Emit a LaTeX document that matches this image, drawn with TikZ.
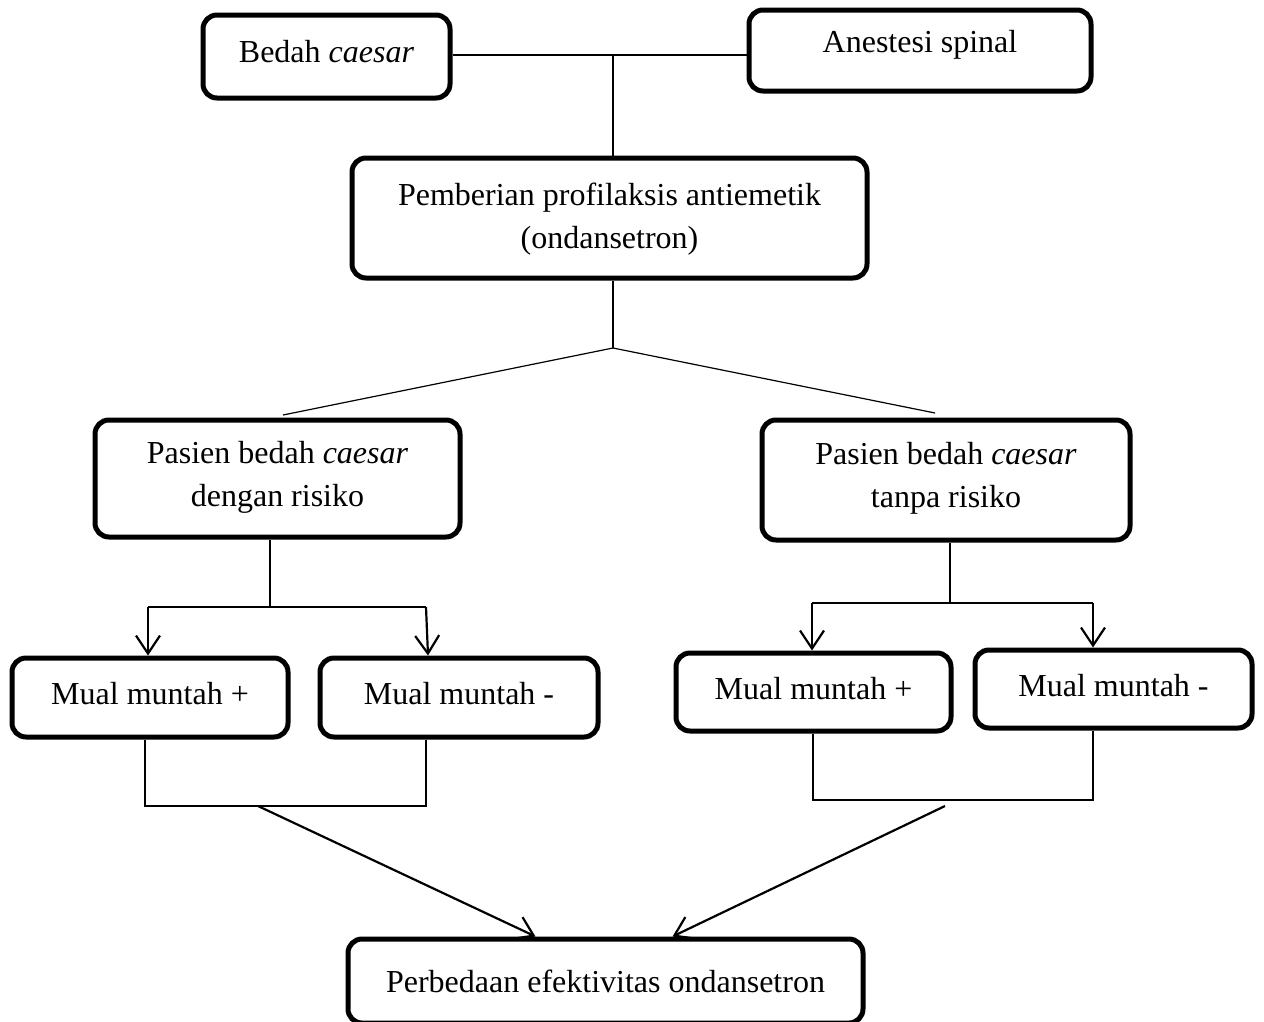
\documentclass[tikz,border=0pt]{standalone}
\usepackage{fontspec}
\setmainfont{Liberation Serif}
\usetikzlibrary{arrows.meta}
\begin{document}
\begin{tikzpicture}[x=1pt,y=-1pt,
  box/.style={draw,line width=5pt,rounded corners=14pt,inner sep=0pt},
  txt/.style={font=\fontsize{32}{43}\selectfont,align=center,inner sep=0pt},
  conn/.style={line width=1.2pt},
  arr/.style={line width=2.2pt,-{Straight Barb[length=18pt,width=24pt,line width=2.2pt]}}]
\useasboundingbox (0,0) rectangle (1264,1021);
% boxes
\node[box,minimum width=247pt,minimum height=83pt] (bc) at (326.5,56.5) {};
\node[txt] (bct) at (326.5,52) {Bedah \textit{caesar}};
\node[box,minimum width=342pt,minimum height=81pt] (as) at (920,50.5) {};
\node[txt] (ast) at (920,45) {Anestesi spinal};
\node[box,minimum width=515pt,minimum height=120pt] (pp) at (609.5,218) {};
\node[txt] (ppt) at (609.5,219) {Pemberian profilaksis antiemetik\\(ondansetron)};
\node[box,minimum width=365pt,minimum height=117pt] (pd) at (277.5,478.5) {};
\node[txt] (pdt) at (277.5,477) {Pasien bedah \textit{caesar}\\dengan risiko};
\node[box,minimum width=368pt,minimum height=120pt] (pt) at (946,480) {};
\node[txt] (ptt) at (946,478) {Pasien bedah \textit{caesar}\\tanpa risiko};
\node[box,minimum width=276pt,minimum height=79pt] (m1) at (150,697.5) {};
\node[txt] (m1t) at (150,694) {Mual muntah +};
\node[box,minimum width=278pt,minimum height=79pt] (m2) at (459,697.5) {};
\node[txt] (m2t) at (459,694) {Mual muntah -};
\node[box,minimum width=275pt,minimum height=78pt] (m3) at (813.5,692) {};
\node[txt] (m3t) at (813.5,689) {Mual muntah +};
\node[box,minimum width=277pt,minimum height=78pt] (m4) at (1113.5,689) {};
\node[txt] (m4t) at (1113.5,686) {Mual muntah -};
\node[box,minimum width=515pt,minimum height=84pt] (pe) at (605.5,981) {};
\node[txt] (pet) at (605.5,981) {Perbedaan efektivitas ondansetron};
% junction coordinates
\coordinate (j1) at (613,55);
\coordinate (j2) at (613,348);
\coordinate (pdin) at (283,415);
\coordinate (ptin) at (935,413);
\coordinate (jl) at (270,607);
\coordinate (jlA) at (148,607);
\coordinate (jlB) at (426,607);
\coordinate (jr) at (950,603);
\coordinate (jrA) at (812,603);
\coordinate (jrB) at (1093,603);
\coordinate (bl1) at (145,806);
\coordinate (bl2) at (426,806);
\coordinate (blm) at (258,806);
\coordinate (br1) at (813,800);
\coordinate (br2) at (1093,800);
\coordinate (brm) at (945,806);
% top connectors
\draw[conn] (bc.east |- j1) -- (as.west |- j1);
\draw[conn] (j1) -- (j1 |- pp.north);
\draw[conn] (j2 |- pp.south) -- (j2);
\draw[conn] (j2) -- (pdin);
\draw[conn] (j2) -- (ptin);
% left branch
\draw[conn] (jl |- pd.south) -- (jl);
\draw[conn] (jlA) -- (jlB);
\draw[arr] (jlA) -- (jlA |- m1.north);
\draw[arr] (jlB) -- ([xshift=2pt]jlB |- m2.north);
% right branch
\draw[conn] (jr |- pt.south) -- (jr);
\draw[conn] (jrA) -- (jrB);
\draw[arr] (jrA) -- (jrA |- m3.north);
\draw[arr] (jrB) -- (jrB |- m4.north);
% bottom left
\draw[conn] (bl1 |- m1.south) -- (bl1) -- (bl2) -- (bl2 |- m2.south);
\draw[arr] (blm) -- ([xshift=-70pt]pe.north);
% bottom right
\draw[conn] (br1 |- m3.south) -- (br1) -- (br2) -- (br2 |- m4.south);
\draw[arr] (brm) -- ([xshift=67pt]pe.north);
\end{tikzpicture}
\end{document}
